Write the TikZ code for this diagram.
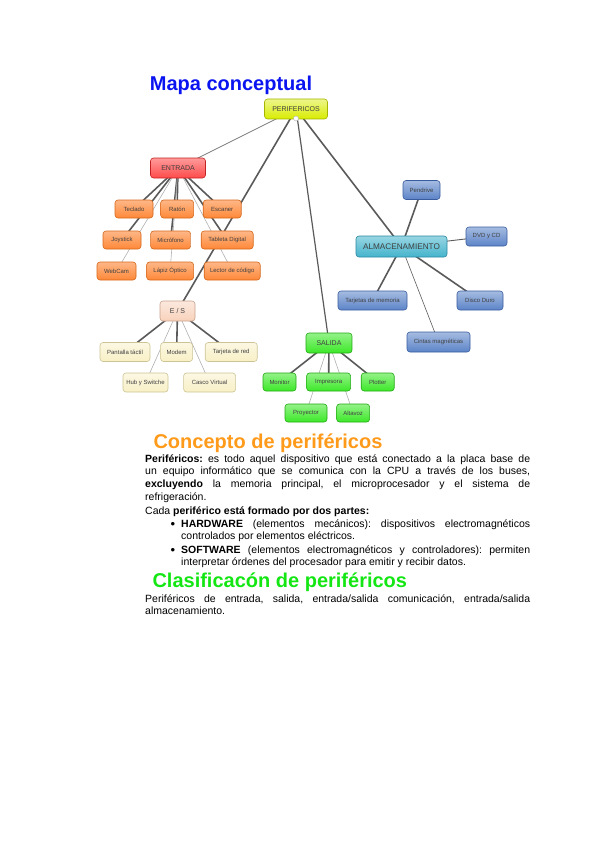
\documentclass[tikz,border=0pt]{standalone}
\usepackage{fontspec}
\setmainfont{Liberation Sans}
\usetikzlibrary{positioning,backgrounds}
\definecolor{MapBlue}{HTML}{0A14F0}
\definecolor{HeadOrange}{HTML}{FF9A1A}
\definecolor{HeadGreen}{HTML}{14E614}
\definecolor{LinkGray}{HTML}{5A5A5A}
\definecolor{LinkLight}{HTML}{B0B0B0}
\definecolor{RootFill}{HTML}{D8EC00}
\definecolor{RootDraw}{HTML}{A4B400}
\definecolor{InFill}{HTML}{FF4A4A}
\definecolor{InDraw}{HTML}{C42222}
\definecolor{InLeaf}{HTML}{FF8838}
\definecolor{InLeafDraw}{HTML}{D4661A}
\definecolor{IoFill}{HTML}{F8D2BC}
\definecolor{IoDraw}{HTML}{C8A08C}
\definecolor{IoLeaf}{HTML}{F8F0C6}
\definecolor{IoLeafDraw}{HTML}{CCC494}
\definecolor{OutFill}{HTML}{3CE828}
\definecolor{OutDraw}{HTML}{22A814}
\definecolor{StoreFill}{HTML}{44B4CC}
\definecolor{StoreDraw}{HTML}{2A88A0}
\definecolor{StoreLeaf}{HTML}{5C84C8}
\definecolor{StoreLeafDraw}{HTML}{3A5C9E}
\newcommand\mapbody{\fontsize{10.5}{12.7}\selectfont\frenchspacing}
\newcommand\mapbig{\fontsize{20}{24}\selectfont\bfseries}

\begin{document}
\begin{tikzpicture}[x=1pt, y=-1pt, node distance=8pt,
    concept/.style={draw, rounded corners=3pt, minimum height=18pt, inner sep=1pt, line width=0.6pt, font=\fontsize{6}{7}\selectfont, text=black!75},
    wd/.style={minimum width=#1},
    root/.style={concept, top color=RootFill!45!white, bottom color=RootFill, draw=RootDraw, minimum height=20pt, font=\fontsize{7}{8}\selectfont},
    entry/.style={concept, top color=InFill!55!white, bottom color=InFill, draw=InDraw, minimum height=20pt, font=\fontsize{7}{8}\selectfont},
    inleaf/.style={concept, top color=InLeaf!60!white, bottom color=InLeaf, draw=InLeafDraw},
    iohub/.style={concept, top color=IoFill!50!white, bottom color=IoFill, draw=IoDraw, minimum height=20pt, font=\fontsize{7}{8}\selectfont},
    ioleaf/.style={concept, top color=IoLeaf!50!white, bottom color=IoLeaf, draw=IoLeafDraw, minimum height=19pt},
    outhub/.style={concept, top color=OutFill!55!white, bottom color=OutFill, draw=OutDraw, minimum height=20pt, font=\fontsize{7}{8}\selectfont},
    outleaf/.style={concept, top color=OutFill!55!white, bottom color=OutFill, draw=OutDraw},
    storehub/.style={concept, top color=StoreFill!55!white, bottom color=StoreFill, draw=StoreDraw, minimum height=21pt, font=\fontsize{8.2}{9}\selectfont},
    storeleaf/.style={concept, top color=StoreLeaf!55!white, bottom color=StoreLeaf, draw=StoreLeafDraw, minimum height=19pt},
    link/.style={LinkGray, line width=1.6pt},
    thinlink/.style={LinkLight, line width=0.6pt}]
    \useasboundingbox (0,0) rectangle (600,848);

    % title
    \node[anchor=base, font=\mapbig, MapBlue] (title) at (231,91) {Mapa conceptual};

    % main concepts
    \node[root, wd=63pt] (perif) at (296,109) {PERIFERICOS};
    \node[circle, draw=LinkLight, fill=white, inner sep=0pt, minimum size=5pt] (knob) at (296,118.5) {};
    \node[entry, wd=55pt] (entrada) at (178,168) {ENTRADA};
    \node[iohub, wd=35pt] (es) at (177.5,311) {E / S};
    \node[outhub, wd=46pt] (salida) at (329,343) {SALIDA};
    \node[storehub, wd=91pt] (almacen) at (401.5,246.5) {ALMACENAMIENTO};

    % entrada
    \node[inleaf, wd=38pt] (teclado) at (134,209) {Teclado};
    \node[inleaf, wd=33pt, right=7pt of teclado] (raton) {Ratón};
    \node[inleaf, wd=38pt, right=9pt of raton] (escaner) {Escaner};
    \node[inleaf, wd=38pt] (joystick) at (122,240) {Joystick};
    \node[inleaf, wd=40pt, right=9pt of joystick] (microfono) {Micrófono};
    \node[inleaf, wd=52pt, right=10pt of microfono] (tableta) {Tableta Digital};
    \node[inleaf, wd=39pt] (webcam) at (116.5,271) {WebCam};
    \node[inleaf, wd=47pt, right=10pt of webcam] (lapiz) {Lápiz Óptico};
    \node[inleaf, wd=56pt, right=10pt of lapiz] (lector) {Lector de código};

    % entrada / salida
    \node[ioleaf, wd=50pt] (pantalla) at (125,352) {Pantalla táctil};
    \node[ioleaf, wd=32pt, right=10pt of pantalla] (modem) {Modem};
    \node[ioleaf, wd=52pt, right=12pt of modem] (tarjred) {Tarjeta de red};
    \node[ioleaf, wd=45pt] (hub) at (145.5,382.5) {Hub y Switche};
    \node[ioleaf, wd=52pt, right=15pt of hub] (casco) {Casco Virtual};

    % salida
    \node[outleaf, wd=33pt] (monitor) at (279.5,382) {Monitor};
    \node[outleaf, wd=44pt, right=10pt of monitor] (impresora) {Impresora};
    \node[outleaf, wd=33pt, right=10pt of impresora] (plotter) {Plotter};
    \node[outleaf, wd=42pt] (proyector) at (306,413) {Proyector};
    \node[outleaf, wd=33pt, right=9pt of proyector] (altavoz) {Altavoz};

    % almacenamiento
    \node[storeleaf, wd=37pt] (pendrive) at (421.5,190) {Pendrive};
    \node[storeleaf, wd=41pt] (dvd) at (486.5,236.5) {DVD y CD};
    \node[storeleaf, wd=69pt] (tarjmem) at (372.5,300.5) {Tarjetas de memoria};
    \node[storeleaf, wd=46pt] (disco) at (480,300.5) {Disco Duro};
    \node[storeleaf, wd=63pt, minimum height=20pt] (cintas) at (438.5,342) {Cintas magnéticas};

    \begin{pgfonlayer}{background}
        \draw[thinlink, LinkGray!80, line width=0.8pt] (perif.center) -- (entrada.center);
        \draw[link] (perif.center) -- (es.center);
        \draw[link, line width=1.2pt] (perif.center) -- (salida.center);
        \draw[link] (perif.center) -- (almacen.center);
        \foreach \leaf in {teclado,raton,escaner,joystick,microfono,tableta}
            \draw[link] (entrada.center) -- (\leaf.center);
        \foreach \leaf in {webcam,lapiz,lector}
            \draw[thinlink] (entrada.center) -- (\leaf.center);
        \foreach \leaf in {pantalla,modem,tarjred}
            \draw[link] (es.center) -- (\leaf.center);
        \foreach \leaf in {hub,casco}
            \draw[thinlink] (es.center) -- (\leaf.center);
        \foreach \leaf in {monitor,impresora,plotter}
            \draw[link] (salida.center) -- (\leaf.center);
        \foreach \leaf in {proyector,altavoz}
            \draw[thinlink] (salida.center) -- (\leaf.center);
        \foreach \leaf in {pendrive,tarjmem,disco}
            \draw[link] (almacen.center) -- (\leaf.center);
        \draw[link, line width=0.9pt] (almacen.center) -- (dvd.center);
        \draw[thinlink, LinkGray] (almacen.center) -- (cintas.center);
    \end{pgfonlayer}

    % text below the map
    \node[anchor=base west, font=\mapbig, HeadOrange] (headconcept) at (150,448) {Concepto de periféricos};
    \node[anchor=base west, inner sep=0pt, text width=385pt, align=justify, font=\mapbody] (defn) at (145,462)
        {\hyphenpenalty=10000 \textbf{Periféricos:} es todo aquel dispositivo que está conectado a la placa base de\linebreak
         un equipo informático que se comunica con la CPU a través de los buses,\linebreak
         \textbf{excluyendo} la memoria principal, el microprocesador y el sistema de\linebreak
         refrigeración.};
    \node[anchor=base west, inner sep=0pt, font=\mapbody] (parts) at (145,514) {Cada \textbf{periférico está formado por dos partes:}};
    \node[anchor=base, inner sep=0pt, font=\fontsize{13}{13}\selectfont] (dot1) at (173,528) {\textbullet};
    \node[anchor=base west, inner sep=0pt, text width=349pt, align=justify, font=\mapbody] (hard) at (181,527)
        {\hyphenpenalty=10000 \textbf{HARDWARE} (elementos mecánicos): dispositivos electromagnéticos\linebreak
         controlados por elementos eléctricos.};
    \node[anchor=base, inner sep=0pt, font=\fontsize{13}{13}\selectfont] (dot2) at (173,554) {\textbullet};
    \node[anchor=base west, inner sep=0pt, text width=349pt, align=justify, font=\mapbody] (soft) at (181,553)
        {\hyphenpenalty=10000 \textbf{SOFTWARE} (elementos electromagnéticos y controladores): permiten\linebreak
         interpretar órdenes del procesador para emitir y recibir datos.};
    \node[anchor=base west, font=\mapbig, HeadGreen] (headclass) at (149,587) {Clasificacón de periféricos};
    \node[anchor=base west, inner sep=0pt, text width=385pt, align=justify, font=\mapbody] (classes) at (145,602)
        {\hyphenpenalty=10000 Periféricos de entrada, salida, entrada/salida comunicación, entrada/salida\linebreak
         almacenamiento.};
\end{tikzpicture}
\end{document}
